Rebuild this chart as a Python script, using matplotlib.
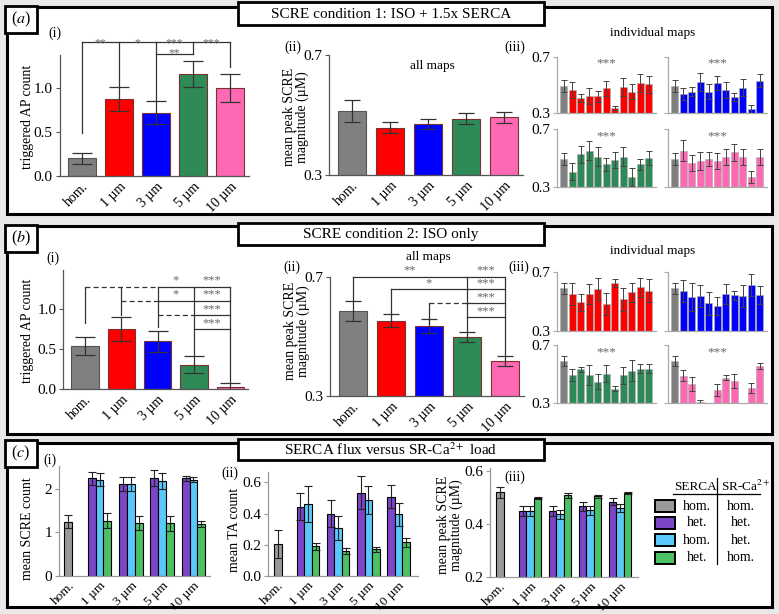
import numpy as np
import matplotlib
matplotlib.use('Agg')
import matplotlib.pyplot as plt
from matplotlib.patches import Rectangle

plt.rcParams['font.family'] = ['Liberation Serif', 'DejaVu Serif']
plt.rcParams['mathtext.fontset'] = 'stix'

W, H = 779, 614
nan = np.nan

# ---------------- data ----------------
cats = ['hom.', '1 µm', '3 µm', '5 µm', '10 µm']
cols5 = ['#808080', '#ff0000', '#0000ff', '#2e8b57', '#ff69b4']

# (a) condition 1: ISO + 1.5x SERCA
a_ap = [0.20, 0.88, 0.72, 1.16, 1.00]
a_ap_err = [0.06, 0.14, 0.13, 0.15, 0.16]
a_mag = [0.513, 0.458, 0.471, 0.488, 0.492]
a_mag_err = [0.036, 0.019, 0.016, 0.019, 0.018]

a_map_hom, a_map_hom_err = 0.493, 0.04
a_ind_1 = [0.465, 0.406, 0.422, 0.420, 0.476, 0.335, 0.488, 0.453, 0.516, 0.505]
a_ind_1_err = [0.06, 0.03, 0.055, 0.04, 0.055, 0.012, 0.065, 0.055, 0.065, 0.06]
a_ind_3 = [0.436, 0.453, 0.519, 0.453, 0.516, 0.465, 0.413, 0.481, 0.328, 0.531]
a_ind_3_err = [0.04, 0.03, 0.065, 0.055, 0.05, 0.055, 0.03, 0.06, 0.03, 0.045]
a_ind_5 = [0.405, 0.526, 0.551, 0.509, 0.458, 0.484, 0.509, 0.370, 0.456, 0.498]
a_ind_5_err = [0.06, 0.06, 0.065, 0.065, 0.045, 0.055, 0.065, 0.06, 0.04, 0.047]
a_ind_10 = [0.551, 0.467, 0.479, 0.493, 0.479, 0.507, 0.540, 0.507, 0.367, 0.507]
a_ind_10_err = [0.075, 0.055, 0.06, 0.05, 0.057, 0.055, 0.058, 0.058, 0.04, 0.052]

# (b) condition 2: ISO only
b_ap = [0.54, 0.76, 0.60, 0.31, 0.035]
b_ap_err = [0.11, 0.15, 0.13, 0.105, 0.04]
b_mag = [0.586, 0.552, 0.534, 0.498, 0.418]
b_mag_err = [0.034, 0.022, 0.023, 0.017, 0.017]

b_map_hom, b_map_hom_err = 0.591, 0.036
b_ind_1 = [0.550, 0.495, 0.550, 0.586, 0.486, 0.625, 0.516, 0.564, 0.598, 0.575]
b_ind_1_err = [0.076, 0.06, 0.068, 0.074, 0.076, 0.026, 0.08, 0.065, 0.065, 0.076]
b_ind_3 = [0.573, 0.530, 0.539, 0.489, 0.470, 0.550, 0.543, 0.539, 0.614, 0.545]
b_ind_3_err = [0.076, 0.097, 0.077, 0.08, 0.06, 0.068, 0.03, 0.077, 0.077, 0.063]
b_ind_5 = [0.494, 0.533, 0.494, 0.449, 0.503, 0.400, 0.492, 0.524, 0.538, 0.538]
b_ind_5_err = [0.04, 0.017, 0.066, 0.05, 0.06, 0.017, 0.06, 0.07, 0.03, 0.03]
b_ind_10 = [0.490, 0.433, 0.311, nan, 0.391, 0.476, 0.453, nan, 0.407, 0.556]
b_ind_10_err = [0.037, 0.046, 0.012, nan, 0.038, 0.015, 0.046, nan, 0.034, 0.022]

# (c) SERCA flux vs SR-Ca load  (het/het, hom/het, het/hom)
c_cols = ['#999999', '#7d45c8', '#5ac8fa', '#4cc065']
c_rows_serca = ['hom.', 'het.', 'hom.', 'het.']
c_rows_sr = ['hom.', 'het.', 'het.', 'hom.']

c_cnt_hom, c_cnt_hom_err = 1.25, 0.16
c_cnt_p = [2.25, 2.115, 2.25, 2.25]
c_cnt_p_err = [0.15, 0.165, 0.18, 0.06]
c_cnt_b = [2.22, 2.115, 2.19, 2.22]
c_cnt_b_err = [0.15, 0.165, 0.18, 0.05]
c_cnt_g = [1.27, 1.22, 1.21, 1.19]
c_cnt_g_err = [0.17, 0.17, 0.18, 0.07]

c_ta_hom, c_ta_hom_err = 0.204, 0.09
c_ta_p = [0.444, 0.400, 0.534, 0.508]
c_ta_p_err = [0.087, 0.086, 0.105, 0.073]
c_ta_b = [0.459, 0.309, 0.484, 0.394]
c_ta_b_err = [0.115, 0.078, 0.09, 0.075]
c_ta_g = [0.190, 0.160, 0.170, 0.214]
c_ta_g_err = [0.022, 0.018, 0.016, 0.029]

c_mag_hom, c_mag_hom_err = 0.518, 0.022
c_mag_p = [0.449, 0.449, 0.465, 0.483]
c_mag_p_err = [0.019, 0.019, 0.018, 0.013]
c_mag_b = [0.449, 0.435, 0.450, 0.460]
c_mag_b_err = [0.019, 0.016, 0.017, 0.015]
c_mag_g = [0.496, 0.507, 0.503, 0.516]
c_mag_g_err = [0.005, 0.01, 0.006, 0.004]

# ---------------- figure ----------------
fig = plt.figure(figsize=(W / 100, H / 100), dpi=100, facecolor='#e8e8e8')
bg = fig.add_axes([0, 0, 1, 1])
bg.set_xlim(0, W)
bg.set_ylim(H, 0)
bg.axis('off')
bg.set_zorder(-10)


def box(x0, y0, x1, y1, lw=2.2, fc='white'):
    bg.add_patch(Rectangle((x0, y0), x1 - x0, y1 - y0, fc=fc, ec='k', lw=lw))


def txt(x, y, s, size=9.5, **kw):
    bg.text(x, y, s, fontsize=size, ha='center', va='center', **kw)


# panels
for top, bot in [(7, 214), (226, 434), (443, 607)]:
    box(7, top, 772, bot)
for top, bot, lab in [(6, 33, 'a'), (225, 252, 'b'), (440, 467, 'c')]:
    box(5, top, 37, bot, lw=2.0)
    txt(21, (top + bot) / 2, '($\\it{%s}$)' % lab, size=11.5)
titles = ['SCRE condition 1: ISO + 1.5x SERCA', 'SCRE condition 2: ISO only',
          'SERCA flux versus SR-Ca$^{2+}$ load']
for (top, bot), t in zip([(2, 25), (223, 245), (439, 460)], titles):
    box(238, top, 544, bot, lw=2.0)
    txt(391, (top + bot) / 2 + 0.5, t, size=11)


def px_axes(l, t, r, b, spc='#777777'):
    ax = fig.add_axes([l / W, 1 - b / H, (r - l) / W, (b - t) / H])
    ax.patch.set_alpha(0)
    for s in ['top', 'right']:
        ax.spines[s].set_visible(False)
    for s in ['left', 'bottom']:
        ax.spines[s].set_color(spc)
        ax.spines[s].set_linewidth(0.9)
    ax.tick_params(colors=spc, labelcolor='k', length=3, width=0.8, labelsize=11, pad=2)
    return ax


def xlabels(ax, n=5, size=10):
    ax.set_xticks(range(n))
    ax.set_xticklabels(cats, rotation=45, ha='right', va='top',
                       rotation_mode='anchor', fontsize=size)
    ax.tick_params(axis='x', length=0, pad=3)


def main_bars(ax, vals, errs, cap):
    x = np.arange(len(vals))
    ax.bar(x, vals, width=0.75, color=cols5,
           edgecolor=['#555555'] + ['#7a3030'] * 4, linewidth=0.8)
    ax.errorbar(x, vals, yerr=errs, fmt='none', ecolor='#333333',
                elinewidth=0.9, capsize=cap, capthick=0.9)
    ax.set_xlim(-0.6, 4.5)
    xlabels(ax)


def map_bars(ax, hom, hom_err, vals, errs, col, left, stars=None):
    v = [hom] + list(vals)
    e = [hom_err] + list(errs)
    x = np.arange(len(v))
    ax.bar(x, v, width=0.8, color=['#808080'] + [col] * len(vals),
           edgecolor='#b0b0b0', linewidth=0.5)
    ax.errorbar(x, v, yerr=e, fmt='none', ecolor='#444444',
                elinewidth=0.7, capsize=2.5, capthick=0.7)
    ax.set_xlim(-0.8, 10.8)
    ax.set_ylim(0.3, 0.7)
    ax.set_xticks([])
    ax.set_yticks([0.3, 0.7])
    ax.set_yticklabels(['0.3', '0.7'] if left else [])
    if stars:
        ax.text(0.5, 0.88, stars, transform=ax.transAxes, ha='center', va='center',
                fontsize=9.5, color='#666666')


def group_bars(ax, hom, hom_err, series, cap=3):
    ax.bar([0], [hom], 0.25, color=c_cols[0], edgecolor='k', linewidth=0.8)
    ax.errorbar([0], [hom], yerr=[hom_err], fmt='none', ecolor='#222222',
                elinewidth=0.8, capsize=cap, capthick=0.8)
    x = np.arange(1, 5)
    for off, (v, e), c in zip([-0.25, 0, 0.25], series, c_cols[1:]):
        ax.bar(x + off, v, 0.25, color=c, edgecolor='k', linewidth=0.8)
        ax.errorbar(x + off, v, yerr=e, fmt='none', ecolor='#222222',
                    elinewidth=0.8, capsize=cap, capthick=0.8)
    xlabels(ax, size=9.5)


br = dict(color='#333333', lw=0.9, clip_on=False)
dash = (0, (4, 2.5))


def hl(ax, x0, x1, y, ls='-'):
    ax.plot([x0, x1], [y, y], ls=ls, **br)


def vl(ax, x, y0, y1, ls='-'):
    ax.plot([x, x], [y0, y1], ls=ls, **br)


def star(ax, x, y, s, va='center', size=9):
    ax.text(x, y, s, ha='center', va=va, fontsize=size, color='#666666', clip_on=False)


# ---------- (a)(i) ----------
ax = px_axes(59.8, 55, 248.5, 176, spc='#555555')
main_bars(ax, a_ap, a_ap_err, cap=7)
ax.set_ylim(0, 1.38)
ax.set_yticks([0, 0.5, 1.0])
ax.set_yticklabels(['0.0', '0.5', '1.0'])
hl(ax, 0, 4, 1.53)
for xx, yy in [(0, 0.49), (1, 1.03), (2, 0.87), (4, 1.24), (3, 1.39)]:
    vl(ax, xx, 1.53, yy)
hl(ax, 2, 3, 1.39)
for xx, s in [(0.5, '**'), (1.5, '*'), (2.5, '***'), (3.5, '***')]:
    star(ax, xx, 1.51, s, size=8.5)
star(ax, 2.5, 1.395, '**', size=8.5)

# ---------- (a)(ii) ----------
ax = px_axes(329.2, 55, 523, 175, spc='#555555')
main_bars(ax, a_mag, a_mag_err, cap=5.5)
ax.set_ylim(0.3, 0.7)
ax.set_yticks([0.3, 0.7])

# ---------- (a)(iii) ----------
ax = px_axes(557, 57, 655.6, 113, spc='#aaaaaa')
map_bars(ax, a_map_hom, a_map_hom_err, a_ind_1, a_ind_1_err, cols5[1], True, '***')
ax = px_axes(668, 57, 766.6, 113, spc='#aaaaaa')
map_bars(ax, a_map_hom, a_map_hom_err, a_ind_3, a_ind_3_err, cols5[2], False, '***')
ax = px_axes(557, 129, 655.6, 187, spc='#aaaaaa')
map_bars(ax, a_map_hom, a_map_hom_err, a_ind_5, a_ind_5_err, cols5[3], True, '***')
ax = px_axes(668, 129, 766.6, 187, spc='#aaaaaa')
map_bars(ax, a_map_hom, a_map_hom_err, a_ind_10, a_ind_10_err, cols5[4], False, '***')

# ---------- (b)(i) ----------
ax = px_axes(63.2, 270.1, 248.4, 389.3, spc='#555555')
main_bars(ax, b_ap, b_ap_err, cap=7)
ax.set_ylim(0, 1.49)
ax.set_yticks([0, 0.5, 1.0])
ax.set_yticklabels(['0.0', '0.5', '1.0'])
L1, L2, L3, L4 = 1.283, 1.108, 0.929, 0.75
hl(ax, 0, 2, L1, dash); hl(ax, 2, 4, L1)
hl(ax, 1, 2, L2, dash); hl(ax, 2, 4, L2)
hl(ax, 2, 3, L3, dash); hl(ax, 3, 4, L3)
hl(ax, 3, 4, L4)
for xx, yy in [(0, 0.833), (1, 0.93), (2, 0.78), (3, 0.43), (4, 0.096)]:
    vl(ax, xx, L1, yy)
star(ax, 2.5, L1, '*', 'bottom')
star(ax, 2.5, L2, '*', 'bottom')
for yy in [L1, L2, L3, L4]:
    star(ax, 3.5, yy, '***', 'bottom')

# ---------- (b)(ii) ----------
ax = px_axes(330.2, 276.7, 524, 395.7, spc='#555555')
main_bars(ax, b_mag, b_mag_err, cap=5.5)
ax.set_ylim(0.3, 0.7)
ax.set_yticks([0.3, 0.7])
M1, M2, M3, M4 = 0.70, 0.658, 0.611, 0.564
hl(ax, 0, 4, M1)
hl(ax, 1, 4, M2)
hl(ax, 2, 3, M3, dash); hl(ax, 3, 4, M3)
hl(ax, 3, 4, M4)
vl(ax, 0, M1, 0.622)
vl(ax, 1, M2, 0.577)
vl(ax, 2, M3, 0.543)
vl(ax, 3, M1, 0.518)
vl(ax, 4, M1, 0.436)
star(ax, 1.5, M1, '**', 'bottom')
star(ax, 2.0, M2, '*', 'bottom')
for yy in [M1, M2, M3, M4]:
    star(ax, 3.5, yy, '***', 'bottom')

# ---------- (b)(iii) ----------
ax = px_axes(557, 272.3, 655.6, 331, spc='#aaaaaa')
map_bars(ax, b_map_hom, b_map_hom_err, b_ind_1, b_ind_1_err, cols5[1], True)
ax = px_axes(668, 272.3, 766.6, 331, spc='#aaaaaa')
map_bars(ax, b_map_hom, b_map_hom_err, b_ind_3, b_ind_3_err, cols5[2], False)
ax = px_axes(557, 345, 655.6, 403.3, spc='#aaaaaa')
map_bars(ax, b_map_hom, b_map_hom_err, b_ind_5, b_ind_5_err, cols5[3], True, '***')
ax = px_axes(668, 345, 766.6, 403.3, spc='#aaaaaa')
map_bars(ax, b_map_hom, b_map_hom_err, b_ind_10, b_ind_10_err, cols5[4], False, '***')

# ---------- (c) ----------
ax = px_axes(58.9, 465.7, 210, 575.7, spc='#999999')
group_bars(ax, c_cnt_hom, c_cnt_hom_err,
           [(c_cnt_p, c_cnt_p_err), (c_cnt_b, c_cnt_b_err), (c_cnt_g, c_cnt_g_err)])
ax.set_xlim(-0.3, 4.53)
ax.set_ylim(0, 2.54)
ax.set_yticks([0, 1, 2])

ax = px_axes(268.1, 471.7, 417.9, 575.7, spc='#999999')
group_bars(ax, c_ta_hom, c_ta_hom_err,
           [(c_ta_p, c_ta_p_err), (c_ta_b, c_ta_b_err), (c_ta_g, c_ta_g_err)])
ax.set_xlim(-0.32, 4.64)
ax.set_ylim(0, 0.669)
ax.set_yticks([0, 0.2, 0.4, 0.6])
ax.set_yticklabels(['0.0', '0.2', '0.4', '0.6'])

ax = px_axes(490.1, 468, 638, 576.5, spc='#999999')
group_bars(ax, c_mag_hom, c_mag_hom_err,
           [(c_mag_p, c_mag_p_err), (c_mag_b, c_mag_b_err), (c_mag_g, c_mag_g_err)])
ax.set_xlim(-0.33, 4.6)
ax.set_ylim(0.2, 0.61)
ax.set_yticks([0.2, 0.4, 0.6])

# legend table
txt(696, 487, 'SERCA', size=9.5)
txt(746, 486, 'SR-Ca$^{2+}$', size=9.5)
bg.plot([673, 760], [494, 494], color='k', lw=0.9)
bg.plot([717, 717], [478, 564], color='k', lw=0.9)
for i, yc in enumerate([506, 523, 540, 557.5]):
    bg.add_patch(Rectangle((655, yc - 6), 20, 12, fc=c_cols[i], ec='k', lw=1.4))
    txt(697, yc, c_rows_serca[i], size=10)
    txt(741, yc, c_rows_sr[i], size=10)

# ---------- annotations ----------
txt(55, 33, '(i)', size=10)
txt(293, 47, '(ii)', size=10)
txt(515, 47, '(iii)', size=10)
txt(432, 66, 'all maps')
txt(653, 33, 'individual maps')
txt(53, 258, '(i)', size=10)
txt(292, 267, '(ii)', size=10)
txt(428, 257, 'all maps')
txt(519, 267, '(iii)', size=10)
txt(653, 251, 'individual maps')
txt(50, 460, '(i)', size=10)
txt(230, 473, '(ii)', size=10)
txt(515, 477, '(iii)', size=10)

mag_lab = 'mean peak SCRE\nmagnitude (µM)'
txt(28, 117, 'triggered AP count', size=10, rotation=90)
txt(296, 117, mag_lab, size=10, rotation=90, linespacing=1.0)
txt(28, 331, 'triggered AP count', size=10, rotation=90)
txt(297, 331, mag_lab, size=10, rotation=90, linespacing=1.0)
txt(28, 529, 'mean SCRE count', size=10, rotation=90)
txt(235, 530, 'mean TA count', size=10, rotation=90)
txt(450, 525, mag_lab, size=10, rotation=90, linespacing=1.0)

fig.savefig('out.png', dpi=100, facecolor=fig.get_facecolor())
